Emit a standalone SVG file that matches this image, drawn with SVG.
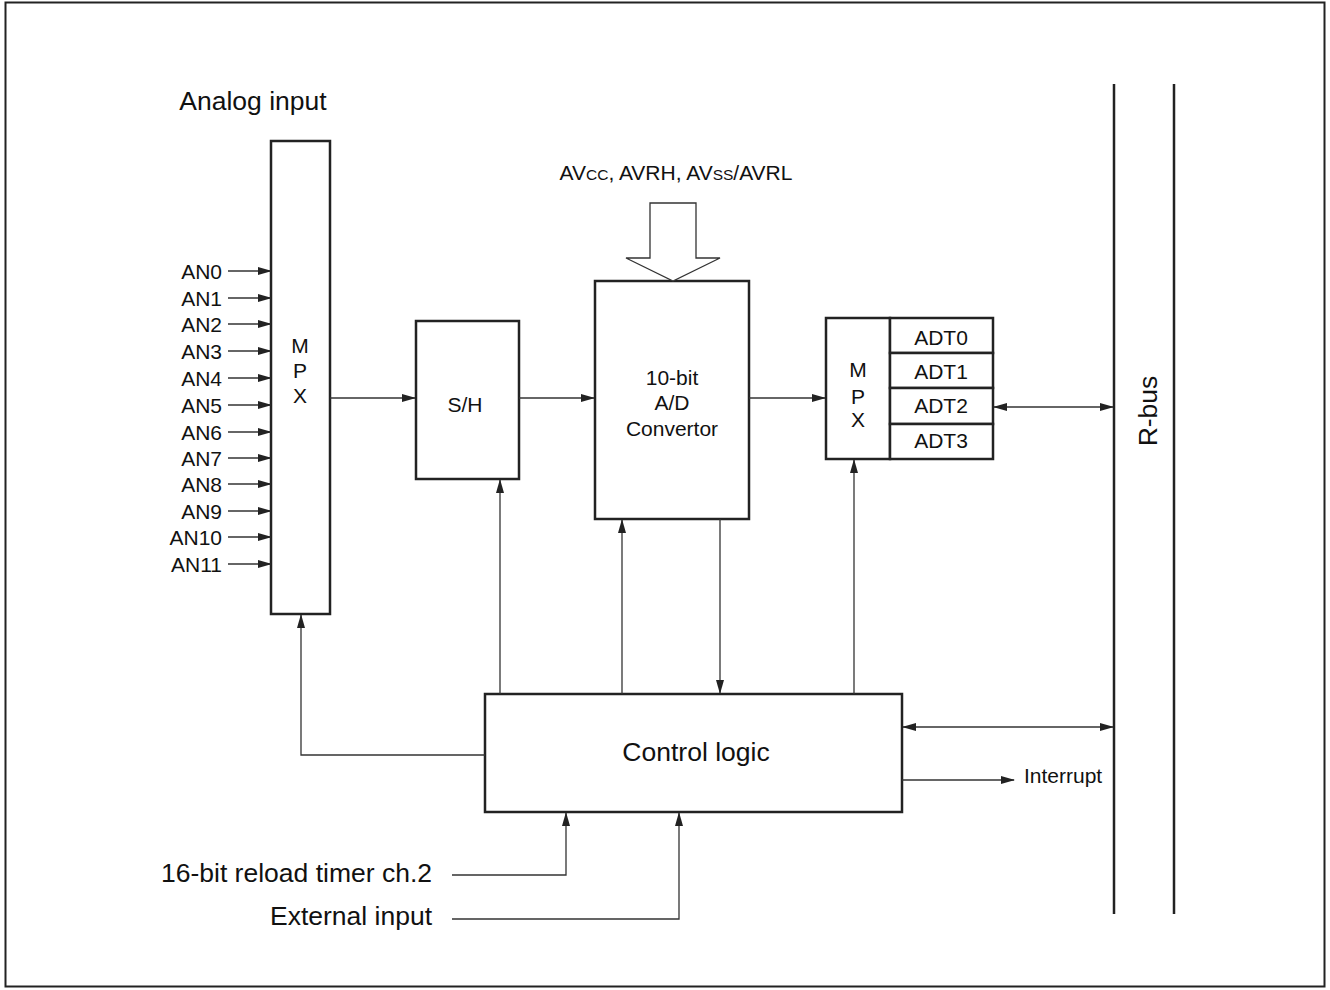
<svg xmlns="http://www.w3.org/2000/svg" width="1330" height="990" viewBox="0 0 1330 990">
<style>
text{font-family:"Liberation Sans",Arial,sans-serif;fill:#111}
.box{fill:#fff;stroke:#222;stroke-width:2.5}
.ln{fill:none;stroke:#333;stroke-width:1.3}
.s{font-size:21px}
.m{font-size:21px}
.l{font-size:26.5px}
</style>
<defs>
<marker id="ah" markerWidth="14" markerHeight="8" refX="13" refY="4" orient="auto" markerUnits="userSpaceOnUse">
<path d="M0,0 L14,4 L0,8 Z" fill="#222"/>
</marker>
<marker id="as" markerWidth="14" markerHeight="8" refX="1" refY="4" orient="auto" markerUnits="userSpaceOnUse">
<path d="M14,0 L0,4 L14,8 Z" fill="#222"/>
</marker>
</defs>
<rect x="5.5" y="2.5" width="1319" height="984" fill="#fff" stroke="#222" stroke-width="2"/>

<text class="l" x="253" y="110" text-anchor="middle">Analog input</text>

<g id="mpx1">
<rect class="box" x="271" y="141" width="59" height="473"/>
<text class="m" x="300" y="353" text-anchor="middle">M</text>
<text class="m" x="300" y="378" text-anchor="middle">P</text>
<text class="m" x="300" y="403" text-anchor="middle">X</text>
</g>

<g id="an-labels" text-anchor="end">
<text x="222" y="279" class="m">AN0</text>
<text x="222" y="306" class="m">AN1</text>
<text x="222" y="332" class="m">AN2</text>
<text x="222" y="359" class="m">AN3</text>
<text x="222" y="386" class="m">AN4</text>
<text x="222" y="413" class="m">AN5</text>
<text x="222" y="440" class="m">AN6</text>
<text x="222" y="466" class="m">AN7</text>
<text x="222" y="492" class="m">AN8</text>
<text x="222" y="519" class="m">AN9</text>
<text x="222" y="545" class="m">AN10</text>
<text x="222" y="572" class="m">AN11</text>
</g>

<g id="sh">
<rect class="box" x="416" y="321" width="103" height="158"/>
<text class="m" x="465" y="412" text-anchor="middle">S/H</text>
</g>

<g id="adc">
<rect class="box" x="595" y="281" width="154" height="238"/>
<text class="m" x="672" y="385" text-anchor="middle">10-bit</text>
<text class="m" x="672" y="410" text-anchor="middle">A/D</text>
<text class="m" x="672" y="436" text-anchor="middle">Convertor</text>
</g>

<g id="power">
<text class="s" x="676" y="180" text-anchor="middle">AV<tspan font-size="15.5">CC</tspan>, AVRH, AV<tspan font-size="15.5">SS</tspan>/AVRL</text>
<path d="M650,203 L696,203 L696,258 L720,258 L673,281 L626,258 L650,258 Z" fill="#fff" stroke="#333" stroke-width="1.3"/>
</g>

<g id="mpx2">
<rect class="box" x="826" y="318" width="64" height="141"/>
<text class="m" x="858" y="377" text-anchor="middle">M</text>
<text class="m" x="858" y="404" text-anchor="middle">P</text>
<text class="m" x="858" y="427" text-anchor="middle">X</text>
</g>

<g id="adt">
<rect class="box" x="890" y="318" width="103" height="35"/>
<rect class="box" x="890" y="353" width="103" height="35"/>
<rect class="box" x="890" y="388" width="103" height="36"/>
<rect class="box" x="890" y="424" width="103" height="35"/>
<text class="m" x="941" y="345" text-anchor="middle">ADT0</text>
<text class="m" x="941" y="379" text-anchor="middle">ADT1</text>
<text class="m" x="941" y="413" text-anchor="middle">ADT2</text>
<text class="m" x="941" y="448" text-anchor="middle">ADT3</text>
</g>

<g id="rbus">
<line x1="1114" y1="84" x2="1114" y2="914" stroke="#222" stroke-width="2.5"/>
<line x1="1174" y1="84" x2="1174" y2="914" stroke="#222" stroke-width="2.5"/>
<text class="l" x="0" y="0" text-anchor="middle" transform="translate(1157,411) rotate(-90)">R-bus</text>
</g>

<g id="control">
<rect class="box" x="485" y="694" width="417" height="118"/>
<text class="l" x="696" y="761" text-anchor="middle">Control logic</text>
</g>

<text class="s" x="1024" y="783">Interrupt</text>
<text class="l" x="432" y="882" text-anchor="end">16-bit reload timer ch.2</text>
<text class="l" x="432" y="925" text-anchor="end">External input</text>

<g id="connectors" class="ln">
<line x1="228" y1="271" x2="271" y2="271" marker-end="url(#ah)"/>
<line x1="228" y1="298" x2="271" y2="298" marker-end="url(#ah)"/>
<line x1="228" y1="324" x2="271" y2="324" marker-end="url(#ah)"/>
<line x1="228" y1="351" x2="271" y2="351" marker-end="url(#ah)"/>
<line x1="228" y1="378" x2="271" y2="378" marker-end="url(#ah)"/>
<line x1="228" y1="405" x2="271" y2="405" marker-end="url(#ah)"/>
<line x1="228" y1="432" x2="271" y2="432" marker-end="url(#ah)"/>
<line x1="228" y1="458" x2="271" y2="458" marker-end="url(#ah)"/>
<line x1="228" y1="484" x2="271" y2="484" marker-end="url(#ah)"/>
<line x1="228" y1="511" x2="271" y2="511" marker-end="url(#ah)"/>
<line x1="228" y1="537" x2="271" y2="537" marker-end="url(#ah)"/>
<line x1="228" y1="564" x2="271" y2="564" marker-end="url(#ah)"/>
<line x1="330" y1="398" x2="415" y2="398" marker-end="url(#ah)"/>
<line x1="519" y1="398" x2="594" y2="398" marker-end="url(#ah)"/>
<line x1="749" y1="398" x2="825" y2="398" marker-end="url(#ah)"/>
<line x1="994" y1="407" x2="1113" y2="407" marker-start="url(#as)" marker-end="url(#ah)"/>
<line x1="500" y1="694" x2="500" y2="480" marker-end="url(#ah)"/>
<line x1="622" y1="694" x2="622" y2="520" marker-end="url(#ah)"/>
<line x1="720" y1="519" x2="720" y2="693" marker-end="url(#ah)"/>
<line x1="854" y1="694" x2="854" y2="460" marker-end="url(#ah)"/>
<polyline points="485,755 301,755 301,615" marker-end="url(#ah)"/>
<line x1="903" y1="727" x2="1113" y2="727" marker-start="url(#as)" marker-end="url(#ah)"/>
<line x1="902" y1="780" x2="1014" y2="780" marker-end="url(#ah)"/>
<polyline points="452,875 566,875 566,813" marker-end="url(#ah)"/>
<polyline points="452,919 679,919 679,813" marker-end="url(#ah)"/>
</g>
</svg>
